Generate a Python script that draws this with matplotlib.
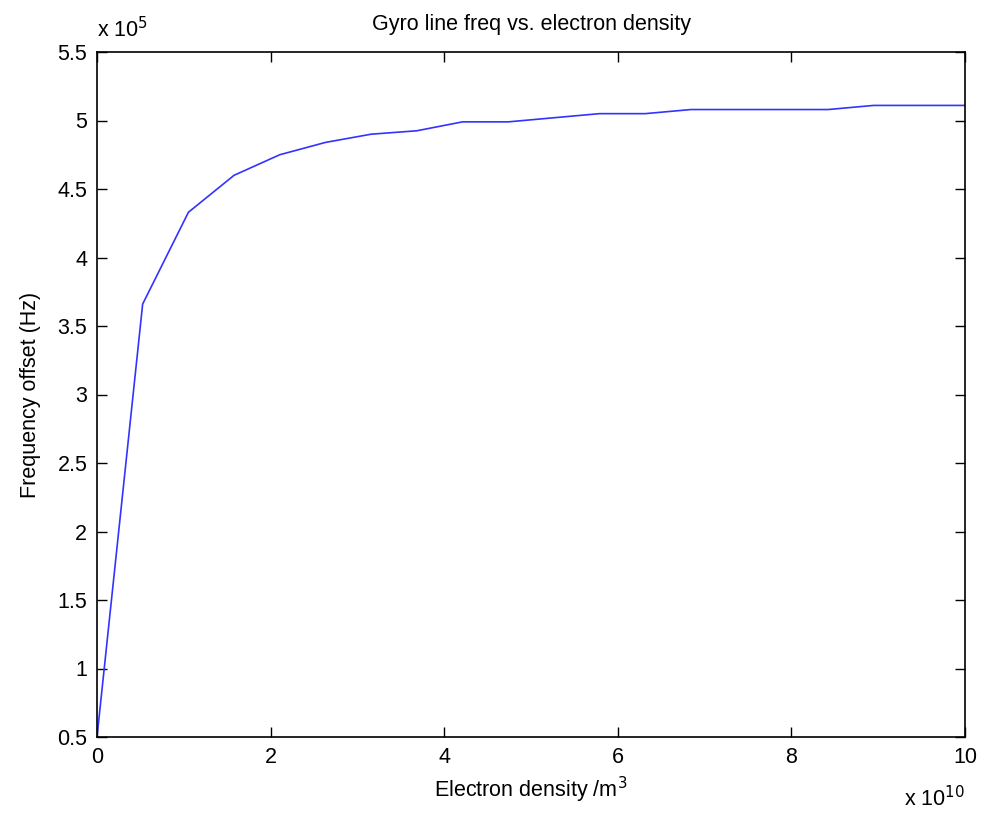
import matplotlib
matplotlib.use("Agg")
import matplotlib.pyplot as plt
import numpy as np

# electron density in units of 1e10 /m^3, frequency offset in units of 1e5 Hz
density_e10 = [0.0, 0.526, 1.053, 1.579, 2.105, 2.632, 3.158, 3.684, 4.211, 4.737,
               5.263, 5.789, 6.316, 6.842, 7.368, 7.895, 8.421, 8.947, 9.474, 10.0]
freq_e5 = [0.5, 3.66, 4.33, 4.60, 4.75, 4.84, 4.90, 4.925, 4.99, 4.99,
           5.02, 5.05, 5.05, 5.08, 5.08, 5.08, 5.08, 5.11, 5.11, 5.11]

plt.rcParams["font.family"] = ["Liberation Sans", "DejaVu Sans"]
plt.rcParams["font.size"] = 15.5

fig = plt.figure(figsize=(9.82, 8.18), dpi=100)
ax = fig.add_axes([97 / 982, 1 - 737 / 818, 868 / 982, 685 / 818])

ax.plot(density_e10, freq_e5, color="#3333ff", lw=1.2)

ax.set_xlim(0, 10)
ax.set_ylim(0.5, 5.5)
ax.set_xticks(np.arange(0, 11, 2))
ax.set_yticks(np.arange(0.5, 5.51, 0.5))
ax.set_yticklabels([f"{v:g}" for v in np.arange(0.5, 5.51, 0.5)])
ax.tick_params(direction="in", top=True, right=True, length=7, width=1, pad=7)
for s in ax.spines.values():
    s.set_linewidth(1.2)

ax.set_title("Gyro line freq vs. electron density", fontsize=15.5, pad=16)
ax.set_xlabel("Electron density /m$^3$", fontsize=15.5, labelpad=5)
ax.set_ylabel("Frequency offset (Hz)", fontsize=15.5, labelpad=12)

ax.text(0.0, 1.014, r"x 10$^5$", transform=ax.transAxes, ha="left", va="bottom", fontsize=15.5)
ax.text(1.0, -0.072, r"x 10$^{10}$", transform=ax.transAxes, ha="right", va="top", fontsize=15.5)

fig.savefig("out.png", dpi=100)
